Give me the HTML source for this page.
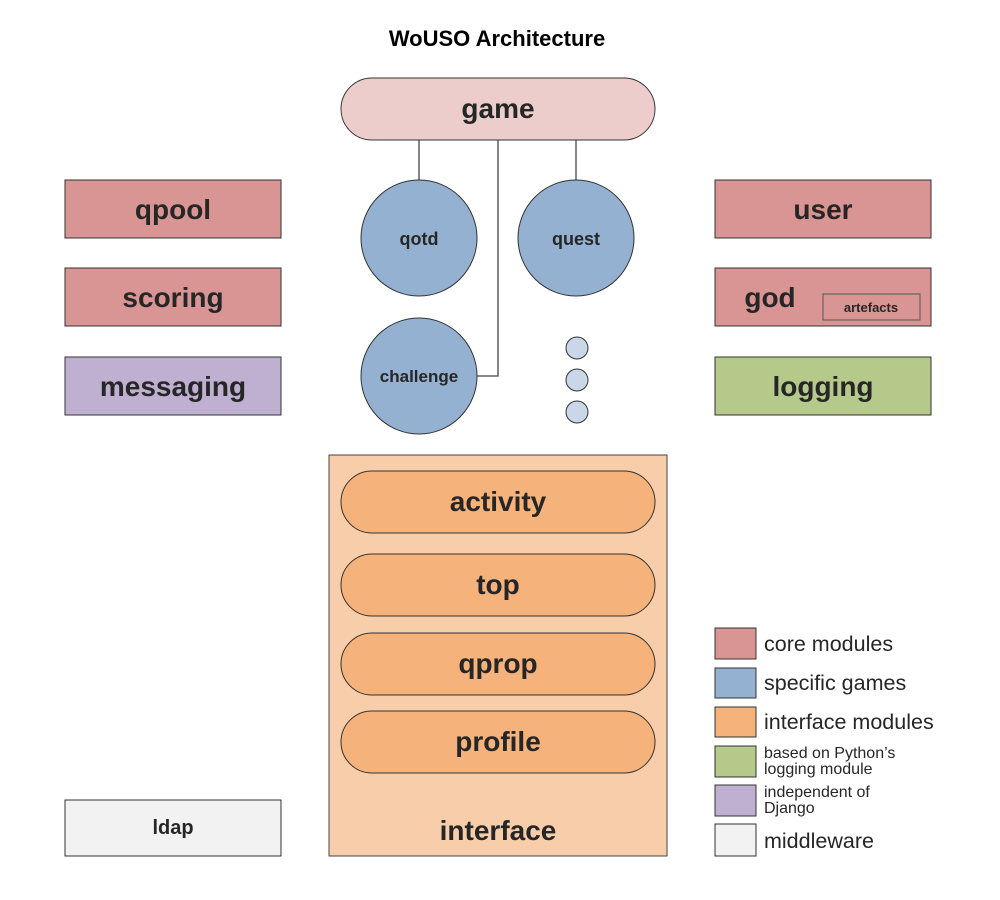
<!DOCTYPE html>
<html><head><meta charset="utf-8"><style>
html,body{margin:0;padding:0;background:#fff;}
svg{display:block;}
text{font-family:"Liberation Sans",Arial,sans-serif;fill:#262626;}
.b{font-weight:bold;}
</style></head><body>
<svg width="1000" height="900" viewBox="0 0 1000 900" xmlns="http://www.w3.org/2000/svg">
<rect width="1000" height="900" fill="#fff"/>
<text x="497" y="46" text-anchor="middle" class="b" font-size="22" style="fill:#000">WoUSO Architecture</text>

<g stroke="#444" stroke-width="1.3" fill="none">
<line x1="419" y1="140" x2="419" y2="180"/>
<line x1="576" y1="140" x2="576" y2="180"/>
<polyline points="498,140 498,376 477,376"/>
</g>
<rect x="341" y="78" width="314" height="62" rx="31" fill="#eccdcc" stroke="#333" stroke-width="1"/>
<text x="498" y="118" text-anchor="middle" class="b" font-size="28">game</text>

<g stroke="#333" stroke-width="1" fill="#95b1d1">
<circle cx="419" cy="238" r="58"/>
<circle cx="576" cy="238" r="58"/>
<circle cx="419" cy="376" r="58"/>
</g>
<g stroke="#333" stroke-width="1" fill="#c9d7e8">
<circle cx="577" cy="348" r="11"/>
<circle cx="577" cy="380" r="11"/>
<circle cx="577" cy="412" r="11"/>
</g>
<text x="419" y="245" text-anchor="middle" class="b" font-size="18">qotd</text>
<text x="576" y="245" text-anchor="middle" class="b" font-size="18">quest</text>
<text x="419" y="382" text-anchor="middle" class="b" font-size="17">challenge</text>

<g stroke="#333" stroke-width="1">
<rect x="65" y="180" width="216" height="58" fill="#d99594"/>
<rect x="65" y="268" width="216" height="58" fill="#d99594"/>
<rect x="65" y="357" width="216" height="58" fill="#bfb0d1"/>
<rect x="715" y="180" width="216" height="58" fill="#d99594"/>
<rect x="715" y="268" width="216" height="58" fill="#d99594"/>
<rect x="715" y="357" width="216" height="58" fill="#b5c98a"/>
<rect x="65" y="800" width="216" height="56" fill="#f2f2f2"/>
</g>
<rect x="823" y="294" width="97" height="26" fill="none" stroke="#555" stroke-width="1"/>
<g font-size="28" text-anchor="middle">
<text x="173" y="219" class="b">qpool</text>
<text x="173" y="307" class="b">scoring</text>
<text x="173" y="396" class="b">messaging</text>
<text x="823" y="219" class="b">user</text>
<text x="770" y="307" class="b">god</text>
<text x="823" y="396" class="b">logging</text>
</g>
<text x="871" y="312" text-anchor="middle" class="b" font-size="13">artefacts</text>
<text x="173" y="834" text-anchor="middle" class="b" font-size="20">ldap</text>

<rect x="329" y="455" width="338" height="401" fill="#f8cdaa" stroke="#444" stroke-width="1"/>
<g fill="#f6b27b" stroke="#333" stroke-width="1">
<rect x="341" y="471" width="314" height="62" rx="31"/>
<rect x="341" y="554" width="314" height="62" rx="31"/>
<rect x="341" y="633" width="314" height="62" rx="31"/>
<rect x="341" y="711" width="314" height="62" rx="31"/>
</g>
<g text-anchor="middle" font-size="28">
<text x="498" y="511" class="b">activity</text>
<text x="498" y="594" class="b">top</text>
<text x="498" y="673" class="b">qprop</text>
<text x="498" y="751" class="b">profile</text>
<text x="498" y="840" class="b">interface</text>
</g>

<g stroke="#333" stroke-width="1">
<rect x="715" y="628" width="41" height="31" fill="#d99594"/>
<rect x="715" y="668" width="41" height="30" fill="#95b1d1"/>
<rect x="715" y="707" width="41" height="30" fill="#f6b27b"/>
<rect x="715" y="746" width="41" height="31" fill="#b5c98a"/>
<rect x="715" y="785" width="41" height="31" fill="#bfb0d1"/>
<rect x="715" y="824" width="41" height="32" fill="#f2f2f2"/>
</g>
<g font-size="21.5">
<text x="764" y="651">core modules</text>
<text x="764" y="690">specific games</text>
<text x="764" y="729">interface modules</text>
<text x="764" y="848">middleware</text>
</g>
<g font-size="16">
<text x="764" y="758">based on Python’s</text>
<text x="764" y="774">logging module</text>
<text x="764" y="797">independent of</text>
<text x="764" y="813">Django</text>
</g>
</svg>
</body></html>
